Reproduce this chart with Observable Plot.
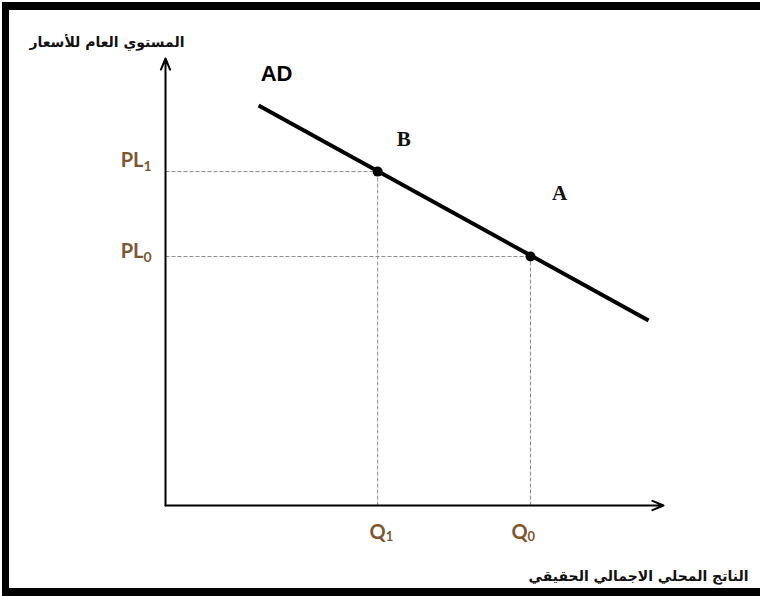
<!DOCTYPE html>
<html><head><meta charset="utf-8">
<script src="https://cdn.jsdelivr.net/npm/d3@7"></script>
<script src="https://cdn.jsdelivr.net/npm/@observablehq/plot@0.6"></script>
<style>
html,body{margin:0;padding:0;background:#fff;}
#wrap{position:relative;width:760px;height:596px;overflow:hidden;}
#border{position:absolute;left:2px;top:2px;right:0;bottom:0;border-left:7px solid #000;border-top:8px solid #000;border-bottom:8px solid #000;pointer-events:none;}
</style></head><body>
<div id="wrap"><div id="chart"></div><div id="border"></div></div>
<script>
// ---- data ----
const quantityNames = ["Q", "Q"];
const quantitySubs = ["1", "0"];
const quantityValues = [42.6, 73.3];
const priceNames = ["PL", "PL"];
const priceSubs = ["1", "0"];
const priceValues = [74.7, 55.7];
const pointNames = ["B", "A"];
const curveName = "AD";
const curveX = [18.7, 97.0];
const curveY = [89.5, 41.4];
const yTitle = "المستوي العام للأسعار";
const xTitle = "الناتج المحلي الاجمالي الحقيقي";

const points = pointNames.map((n, i) => ({name: n, q: quantityValues[i], p: priceValues[i]}));
const curve = curveX.map((x, i) => ({x, y: curveY[i]}));
const brown = "#7d5733";
const labelFont = "Lato, 'Open Sans', sans-serif";
const dash = {stroke: "#8c8c8c", strokeWidth: 1, strokeDasharray: "4,2"};

function priceLabel(i, dy) {
  const d = [{p: priceValues[i], main: priceNames[i], sub: priceSubs[i]}];
  return [
    Plot.text(d, {x: 0, y: "p", text: "main", textAnchor: "end", dx: -22, dy, fontSize: 20, fontWeight: "bold", fill: brown, fontFamily: labelFont}),
    Plot.text(d, {x: 0, y: "p", text: "sub", textAnchor: "start", dx: -22, dy: dy + 6, fontSize: 14, fontWeight: "bold", fill: brown, fontFamily: labelFont})
  ];
}
function quantityLabel(i, dx) {
  const d = [{q: quantityValues[i], main: quantityNames[i], sub: quantitySubs[i]}];
  return [
    Plot.text(d, {x: "q", y: 0, text: "main", textAnchor: "middle", dx, dy: 27, fontSize: 20, fontWeight: "bold", fill: brown, fontFamily: labelFont}),
    Plot.text(d, {x: "q", y: 0, text: "sub", textAnchor: "start", dx: dx + 8, dy: 31, fontSize: 13, fontWeight: "bold", fill: brown, fontFamily: labelFont})
  ];
}

const chart = Plot.plot({
  width: 760,
  height: 596,
  marginLeft: 165,
  marginRight: 97,
  marginTop: 58,
  marginBottom: 91,
  x: {domain: [0, 100], axis: null},
  y: {domain: [0, 100], axis: null},
  style: {background: "transparent", overflow: "visible"},
  marks: [
    Plot.link(points, {x1: 0, x2: "q", y1: "p", y2: "p", ...dash}),
    Plot.link(points, {x1: "q", x2: "q", y1: 0, y2: "p", ...dash}),
    Plot.arrow([0], {x1: 0, y1: 0, x2: 0, y2: 100, stroke: "#000", strokeWidth: 2, headLength: 9, headAngle: 45}),
    Plot.arrow([0], {x1: 0, y1: 0, x2: 100, y2: 0, stroke: "#000", strokeWidth: 2, headLength: 9, headAngle: 45}),
    Plot.line(curve, {x: "x", y: "y", stroke: "#000", strokeWidth: 4, strokeLinecap: "butt"}),
    Plot.dot(points, {x: "q", y: "p", r: 5, fill: "#000"}),
    Plot.text([curve[0]], {x: "x", y: "y", text: () => curveName, dx: 18, dy: -31, fontSize: 22, fontWeight: "bold", fill: "#000", fontFamily: "'Liberation Sans', Arial, sans-serif"}),
    Plot.text(points.slice(0, 1), {x: "q", y: "p", text: "name", dx: 26, dy: -32, fontSize: 21, fontWeight: "bold", fill: "#111", fontFamily: "'Liberation Serif', serif"}),
    Plot.text(points.slice(1, 2), {x: "q", y: "p", text: "name", dx: 29, dy: -63, fontSize: 21, fontWeight: "bold", fill: "#111", fontFamily: "'Liberation Serif', serif"}),
    ...priceLabel(0, -11),
    ...priceLabel(1, -5),
    ...quantityLabel(0, 0),
    ...quantityLabel(1, -11),
    Plot.text([yTitle], {frameAnchor: "top-left", text: d => d, dx: 19, dy: -21, textAnchor: "end", fontSize: 14, fontWeight: "bold", fill: "#111", fontFamily: "'DejaVu Sans', sans-serif"}),
    Plot.text([xTitle], {frameAnchor: "bottom-right", text: d => d, dx: 85, dy: 75, textAnchor: "end", fontSize: 14, fontWeight: "bold", fill: "#111", fontFamily: "'DejaVu Sans', sans-serif"})
  ]
});
document.getElementById("chart").appendChild(chart);
</script>
</body></html>
